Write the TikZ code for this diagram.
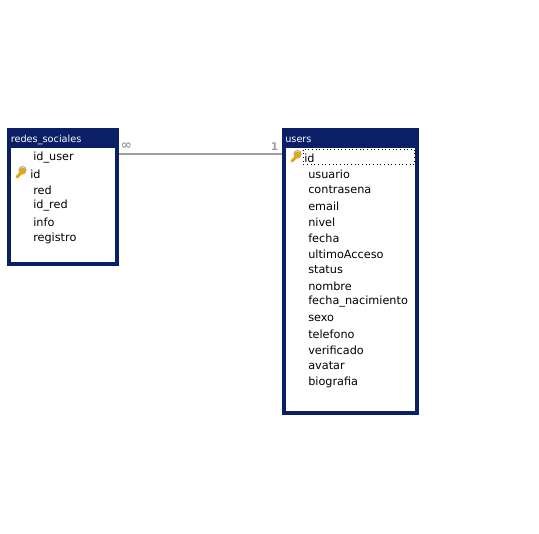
\documentclass[tikz,border=0pt]{standalone}
\usepackage{fontspec}
\setmainfont{DejaVu Sans}
\usetikzlibrary{positioning, calc}

\begin{document}
\begin{tikzpicture}[x=0.75pt, y=-0.75pt]
  % Define colors
  \definecolor{tablenavy}{RGB}{10,31,104}
  \definecolor{linkgray}{RGB}{160,160,160}
  \definecolor{keygold}{RGB}{222,170,20}
  \definecolor{keyshade}{RGB}{170,170,170}

  \tikzset{
    tableinner/.style={rectangle, fill=white, anchor=north west, inner sep=0pt},
    tabletitle/.style={font=\fontsize{7.3}{10}\selectfont, text=white, anchor=west, inner sep=0pt},
    fieldname/.style={font=\fontsize{8.45}{10}\selectfont, text=black, anchor=west, inner sep=0pt},
    endlabel/.style={font=\bfseries\fontsize{8}{10}\selectfont, text=linkgray, inner sep=0pt}
  }

  \useasboundingbox (0,0) rectangle (539,533);

  % Table frames
  \fill[tablenavy] (7,128) rectangle (119,266);
  \fill[tablenavy] (282,128) rectangle (419,415);
  \node[tableinner, minimum width=78pt, minimum height=85.5pt] (redes) at (11,148) {};
  \node[tableinner, minimum width=96.75pt, minimum height=197.25pt] (users) at (286,148) {};

  % Titles
  \node[tabletitle] (redestitle) at (10.5,140) {redes\_sociales};
  \node[tabletitle] (userstitle) at (285,140) {users};

  % Fields of redes_sociales
  \foreach \i/\y/\x/\data in {
    0/158/33/id\_user,
    1/174/30/id,
    2/190/33/red,
    3/206/33/id\_red,
    4/222/33/info,
    5/238/33/registro
  } {
    \node[fieldname] (redes\i) at (\x,\y) {\data};
  }

  % Fields of users
  \foreach \i/\y/\x/\data in {
    0/158/304/id,
    1/174/308/usuario,
    2/190/308/contrasena,
    3/206/308/email,
    4/222/308/nivel,
    5/238/308/fecha,
    6/254/308/ultimoAcceso,
    7/270/308/status,
    8/286/308/nombre,
    9/302/308/fecha\_nacimiento,
    10/318/308/sexo,
    11/334/308/telefono,
    12/350/308/verificado,
    13/366/308/avatar,
    14/382/308/biografia
  } {
    \node[fieldname] (users\i) at (\x,\y) {\data};
  }

  % Selection around the id field
  \draw[black, line width=0.75pt, dotted] (303,149.5) rectangle (414.5,164);

  % Key icons
  \foreach \cx/\cy in {21/172, 296/156} {
    \draw[keyshade, line width=0.75pt] (\cx+1.5,\cy-2) circle (3.5);
    \draw[keygold, line width=2.25pt, line cap=round] (\cx-4,\cy+5) -- (\cx+1,\cy+0);
    \fill[keygold] (\cx+1.5,\cy-1) circle (3.5);
  }

  % Relationship
  \coordinate (linkstart) at (119,153.5);
  \coordinate (linkend) at (282,153.5);
  \draw[linkgray, line width=1.5pt] (linkstart) -- (linkend);
  \node[endlabel, font=\bfseries\fontsize{10}{10}\selectfont] (linkmany) at (126.5,146.5) {∞};
  \node[endlabel] (linkone) at (274.5,146.5) {1};
\end{tikzpicture}
\end{document}
